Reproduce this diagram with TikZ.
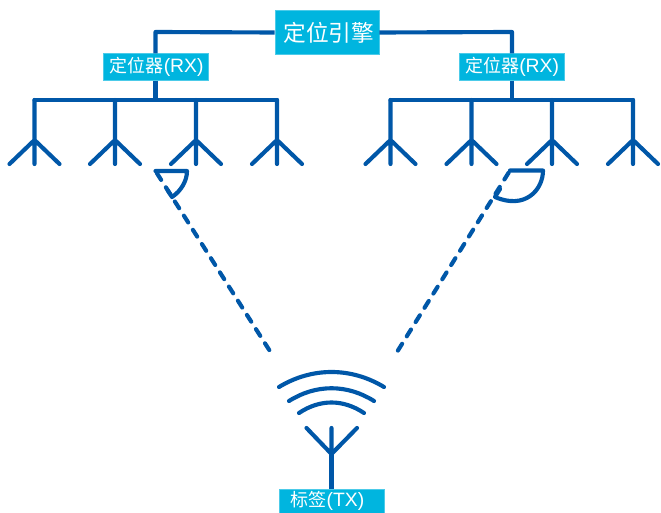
\documentclass[tikz,border=0pt]{standalone}
\usepackage{fontspec}
\setmainfont{Liberation Sans}
\newfontfamily\cjk{Noto Sans CJK SC}
\usetikzlibrary{calc}
\definecolor{boxc}{HTML}{00B5DF}
\definecolor{linec}{HTML}{0057A8}
\tikzset{
  wire/.style={draw=linec,line width=3.1pt,line cap=round,line join=round},
  ddash/.style={draw=linec,line width=3.1pt,line cap=round,dash pattern=on 6pt off 6.6pt,dash phase=10.7pt},
  lbox/.style={fill=boxc,text=white,inner sep=0pt,draw=boxc!70!white,line width=.4pt},
  bigbox/.style={lbox,minimum width=78pt,minimum height=33pt,font=\fontsize{17}{20}\selectfont},
  rxbox/.style={lbox,minimum width=78.5pt,minimum height=20pt,font=\fontsize{13.5}{16}\selectfont},
}
\newcommand{\antfork}[2]{%
  \coordinate (f#1) at (#2,140);
  \coordinate (t#1) at (#2,100);
  \coordinate (b#1) at (#2,164);
  \coordinate (l#1) at ($(f#1)+(-25,24)$);
  \coordinate (r#1) at ($(f#1)+(25,24)$);
  \draw[wire] (t#1) -- (b#1) (l#1) -- (f#1) -- (r#1);
}
\newcommand{\rxtext}{\hspace*{1pt}\raisebox{-3pt}{\cjk 定位器\fontsize{14.5}{16}\selectfont\normalfont(RX)}}
\begin{document}
\begin{tikzpicture}[x=0.75pt,y=-0.75pt]
\useasboundingbox (0,0) rectangle (661,513);
\coordinate (busL) at (155.5,100);
\coordinate (busR) at (512,100);
\coordinate (cornL) at (155.5,32);
\coordinate (cornR) at (512,32);
\node[bigbox] (eng) at (327,32.5) {\hspace*{2.5pt}\raisebox{.5pt}{\cjk 定位引擎}};
\node[rxbox] (rxl) at (156,67) {\rxtext};
\node[rxbox] (rxr) at (511.5,67) {\rxtext};
\draw[wire,line cap=butt] (eng.west) -- (cornL) -- (rxl.north -| cornL);
\draw[wire,line cap=butt] (eng.east) -- (cornR) -- (rxr.north -| cornR);
\draw[wire,line cap=butt] (rxl.south -| busL) -- (busL);
\draw[wire,line cap=butt] (rxr.south -| busR) -- (busR);
\antfork{a}{34.5}
\antfork{b}{115}
\antfork{c}{196}
\antfork{d}{277}
\antfork{e}{390.5}
\antfork{f}{471.5}
\antfork{g}{552}
\antfork{h}{633}
\draw[wire] (ta) -- (td);
\draw[wire] (te) -- (th);
% reception sectors
\coordinate (sl) at (155.5,171);
\coordinate (slt) at (187,171);
\coordinate (sle) at (172,197);
\coordinate (slk) at (167.5,190);
\coordinate (el) at (270.5,352);
\coordinate (sr) at (510,170.5);
\coordinate (srt) at (543,170.5);
\coordinate (sre) at (495,197);
\coordinate (srk) at (500,189);
\coordinate (er) at (397,352);
\draw[wire] (sl) -- (slt) .. controls (187,181) and (181,191) .. (sle) -- (slk);
\draw[wire] (sr) -- (srt) .. controls (543,190) and (525,210) .. (sre) -- (srk);
\draw[ddash] (sl) -- (el);
\draw[ddash] (sr) -- (er);
% tag
\node[rxbox,minimum width=78.5pt,minimum height=18pt] (tag) at (331.5,501) {\raisebox{-2.2pt}{\hspace*{-6pt}\cjk 标签\fontsize{14.5}{16}\selectfont\normalfont(TX)}};
\coordinate (tf) at (331.5,454);
\coordinate (tt) at (331.5,428);
\coordinate (tl) at (306.5,428);
\coordinate (tr) at (357,428);
\draw[wire,line cap=butt] (tag.north -| tf) -- (tf);
\draw[wire] (tf) -- (tt) (tl) -- (tf) -- (tr);
\draw[wire] (279,387) .. controls (312,367) and (351,367) .. (384,387);
\draw[wire] (289,401) .. controls (316,384) and (347,384) .. (374,401);
\draw[wire] (299,413) .. controls (320,399) and (343,399) .. (364,413);
\end{tikzpicture}
\end{document}
